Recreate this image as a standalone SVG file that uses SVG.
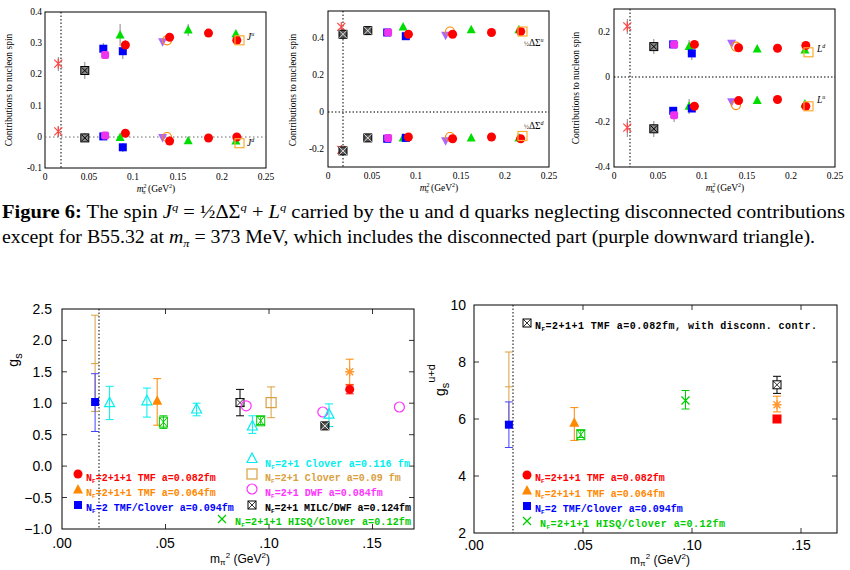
<svg xmlns="http://www.w3.org/2000/svg" xmlns:xlink="http://www.w3.org/1999/xlink" width="850" height="570" viewBox="0 0 850 570">
<style>
.fr{fill:none;stroke:#000;stroke-width:1}
.tk{stroke:#000;stroke-width:0.8}
.sf{font-family:"Liberation Serif",serif;font-size:9.5px;fill:#000}
.ss{font-family:"Liberation Sans",Arial,sans-serif;font-size:14px;fill:#000}
.lg{font-family:"Liberation Mono",monospace;font-size:10px;font-weight:bold;white-space:pre}
.dot{stroke:#666;stroke-width:1;stroke-dasharray:1.5,2.5;fill:none}
.dotk{stroke:#000;stroke-width:1;stroke-dasharray:1.5,2;fill:none}
.eb{stroke-width:1;fill:none}
.cap{font-family:"Liberation Serif",serif;font-size:18px;fill:#000}
</style>
<defs>
<g id="rc"><circle r="4.5" fill="#f00"/></g>
<g id="gt"><path d="M0,-5L4.5,3.5L-4.5,3.5Z" fill="#0d0"/></g>
<g id="bs"><rect x="-4" y="-4" width="8" height="8" fill="#00f"/></g>
<g id="mp"><rect x="-4" y="-4" width="8" height="8" fill="#e3e" rx="2"/></g>
<g id="kb"><rect x="-4" y="-4" width="8" height="8" fill="#888" stroke="#000"/><path d="M-3,-3L3,3M3,-3L-3,3" stroke="#000"/></g>
<g id="rx"><path d="M-4,-4L4,4M4,-4L-4,4M0,-5V5" stroke="#f44" stroke-width="1.2"/></g>
<g id="pd"><path d="M0,5L4.5,-3.5L-4.5,-3.5Z" fill="#a6f"/></g>
<g id="oc"><circle r="4.5" fill="none" stroke="#f80" stroke-width="1.2"/></g>
<g id="os"><rect x="-4.5" y="-4.5" width="9" height="9" fill="none" stroke="#fa3" stroke-width="1.2"/></g>
<g id="ks"><rect x="-4" y="-4" width="8" height="8" fill="#555" stroke="#000"/><path d="M-4,-4L4,4M4,-4L-4,4" stroke="#fff" stroke-width="0.8"/></g>
<g id="kbo"><rect x="-4" y="-4" width="8" height="8" fill="#fff" stroke="#000"/><path d="M-4,-4L4,4M4,-4L-4,4" stroke="#000" stroke-width="0.8"/></g>
<g id="ct"><path d="M0,-6L5,3.5L-5,3.5Z" fill="none" stroke="#0ee" stroke-width="1.2"/></g>
<g id="ot"><path d="M0,-6L5,3.5L-5,3.5Z" fill="#f80"/></g>
<g id="gx"><path d="M-4,-4L4,4M4,-4L-4,4" stroke="#0c0" stroke-width="1.3"/></g>
<g id="gxb"><rect x="-4" y="-5" width="8" height="10" fill="none" stroke="#0c0"/><path d="M-4,-5L4,5M4,-5L-4,5" stroke="#0c0"/></g>
<g id="mc"><circle r="5" fill="none" stroke="#f3f" stroke-width="1.2"/></g>
<g id="osq"><rect x="-5" y="-5" width="10" height="10" fill="none" stroke="#d9a040" stroke-width="1.2"/></g>
<g id="ost"><path d="M-3.5,-3.5L3.5,3.5M3.5,-3.5L-3.5,3.5M0,-4.5V4.5M-4.5,0H4.5" stroke="#f93" stroke-width="1.5"/></g>
<g id="rs"><rect x="-4.5" y="-4.5" width="9" height="9" fill="#f00"/></g>
</defs>

<!-- Top plot 1 -->
<g id="plot-J">
<rect class="fr" x="45" y="12" width="221" height="156"/>
<line class="dotk" x1="61" y1="12" x2="61" y2="168"/>
<line class="dot" x1="45" y1="137" x2="266" y2="137"/>
<g class="sf" text-anchor="end">
<text x="42" y="15">0.4</text><text x="42" y="46">0.3</text><text x="42" y="77">0.2</text><text x="42" y="109">0.1</text><text x="42" y="140">0</text><text x="42" y="171">-0.1</text>
</g>
<g class="sf" text-anchor="middle">
<text x="45" y="180">0</text><text x="89" y="180">0.05</text><text x="133" y="180">0.1</text><text x="178" y="180">0.15</text><text x="222" y="180">0.2</text><text x="266" y="180">0.25</text>
<text x="156" y="192"><tspan font-style="italic">m</tspan><tspan font-size="6" dy="-4">2</tspan><tspan font-size="6" dy="6" dx="-4" font-style="italic">π</tspan><tspan dy="-2"> (GeV</tspan><tspan font-size="6" dy="-4">2</tspan><tspan dy="4">)</tspan></text>
</g>
<text class="sf" transform="translate(12,90) rotate(-90)" text-anchor="middle">Contributions to nucleon spin</text>
<text class="sf" x="247" y="40" font-style="italic">J<tspan font-size="6" dy="-4">u</tspan></text>
<text class="sf" x="247" y="146" font-style="italic">J<tspan font-size="6" dy="-4">d</tspan></text>
<g class="eb">
<path d="M58.3,57V71M84.8,62V79M103.3,43V54M120.1,24V46M122.8,44V59M125.4,40V50M188.2,24V36" stroke="#888"/>
<path d="M58.3,126V137M84.8,133V142M122.8,143V152" stroke="#888"/>
</g>
<use href="#rx" x="58.3" y="63.7"/><use href="#kb" x="84.8" y="70.5"/><use href="#bs" x="103.3" y="48.7"/><use href="#mp" x="105.1" y="55"/><use href="#gt" x="120.1" y="35"/><use href="#bs" x="122.8" y="51.2"/><use href="#rc" x="125.4" y="45"/><use href="#pd" x="162.6" y="41.8"/><use href="#oc" x="167" y="40.3"/><use href="#rc" x="169.6" y="37.2"/><use href="#gt" x="188.2" y="30"/><use href="#rc" x="208.5" y="33.1"/><use href="#gt" x="235.9" y="34"/><use href="#rc" x="236.8" y="40.3"/><use href="#os" x="239.5" y="40.3"/>
<use href="#rx" x="58.3" y="131.4"/><use href="#kb" x="84.8" y="137.9"/><use href="#bs" x="103.3" y="136.4"/><use href="#mp" x="105.1" y="135.4"/><use href="#gt" x="120.1" y="137.6"/><use href="#bs" x="122.8" y="147.3"/><use href="#rc" x="125.4" y="133.3"/><use href="#pd" x="162.6" y="137.6"/><use href="#oc" x="167" y="137"/><use href="#rc" x="169.6" y="141"/><use href="#gt" x="188.2" y="140.7"/><use href="#rc" x="208.5" y="138"/><use href="#gt" x="235.9" y="141"/><use href="#rc" x="236.8" y="137"/><use href="#os" x="239.5" y="143.2"/>
</g>

<!-- Top plot 2 -->
<g id="plot-DS">
<rect class="fr" x="328" y="11" width="221" height="156"/>
<line class="dotk" x1="343" y1="11" x2="343" y2="167"/>
<line class="dotk" x1="328" y1="112" x2="549" y2="112"/>
<g class="sf" text-anchor="end">
<text x="324" y="41">0.4</text><text x="324" y="78">0.2</text><text x="324" y="115">0</text><text x="324" y="152">-0.2</text>
</g>
<g class="sf" text-anchor="middle">
<text x="328" y="179">0</text><text x="372" y="179">0.05</text><text x="416" y="179">0.1</text><text x="461" y="179">0.15</text><text x="505" y="179">0.2</text><text x="549" y="179">0.25</text>
<text x="439" y="191"><tspan font-style="italic">m</tspan><tspan font-size="6" dy="-4">2</tspan><tspan font-size="6" dy="6" dx="-4" font-style="italic">π</tspan><tspan dy="-2"> (GeV</tspan><tspan font-size="6" dy="-4">2</tspan><tspan dy="4">)</tspan></text>
</g>
<text class="sf" transform="translate(296,90) rotate(-90)" text-anchor="middle">Contributions to nucleon spin</text>
<text class="sf" x="524" y="46"><tspan font-size="6.5">½</tspan>ΔΣ<tspan font-size="6" dy="-4" font-style="italic">u</tspan></text>
<text class="sf" x="524" y="129"><tspan font-size="6.5">½</tspan>ΔΣ<tspan font-size="6" dy="-4" font-style="italic">d</tspan></text>
<use href="#rx" x="341.3" y="26.9"/><use href="#ks" x="343" y="34.3"/><use href="#ks" x="367.8" y="30.6"/><use href="#bs" x="387.2" y="32.5"/><use href="#mp" x="388.1" y="32.5"/><use href="#gt" x="403.1" y="26.9"/><use href="#bs" x="405.8" y="36.2"/><use href="#rc" x="408.4" y="34.3"/><use href="#pd" x="445.6" y="35.2"/><use href="#oc" x="450" y="31.5"/><use href="#rc" x="452.6" y="34.3"/><use href="#gt" x="471.2" y="29.7"/><use href="#rc" x="491.5" y="32.5"/><use href="#gt" x="518.9" y="29.7"/><use href="#rc" x="520.7" y="31.5"/><use href="#os" x="522.5" y="31.5"/>
<use href="#rx" x="341.3" y="149.9"/><use href="#ks" x="343" y="150.9"/><use href="#ks" x="367.8" y="137.9"/><use href="#bs" x="387.2" y="138.8"/><use href="#mp" x="388.1" y="137.9"/><use href="#gt" x="403.1" y="137.9"/><use href="#bs" x="405.8" y="137.9"/><use href="#rc" x="408.4" y="137"/><use href="#pd" x="445.6" y="140.7"/><use href="#oc" x="450" y="137"/><use href="#rc" x="452.6" y="138.8"/><use href="#gt" x="471.2" y="137.9"/><use href="#rc" x="491.5" y="137"/><use href="#gt" x="518.9" y="137.9"/><use href="#rc" x="520.7" y="138.8"/><use href="#os" x="522.5" y="136"/>
</g>

<!-- Top plot 3 -->
<g id="plot-L">
<rect class="fr" x="614" y="9" width="221" height="158"/>
<line class="dotk" x1="630" y1="9" x2="630" y2="167"/>
<line class="dotk" x1="614" y1="77" x2="835" y2="77"/>
<g class="sf" text-anchor="end">
<text x="610" y="35">0.2</text><text x="610" y="80">0</text><text x="610" y="125">-0.2</text><text x="610" y="170">-0.4</text>
</g>
<g class="sf" text-anchor="middle">
<text x="614" y="179">0</text><text x="658" y="179">0.05</text><text x="702" y="179">0.1</text><text x="747" y="179">0.15</text><text x="791" y="179">0.2</text><text x="835" y="179">0.25</text>
<text x="725" y="191"><tspan font-style="italic">m</tspan><tspan font-size="6" dy="-4">2</tspan><tspan font-size="6" dy="6" dx="-4" font-style="italic">π</tspan><tspan dy="-2"> (GeV</tspan><tspan font-size="6" dy="-4">2</tspan><tspan dy="4">)</tspan></text>
</g>
<text class="sf" transform="translate(579,88) rotate(-90)" text-anchor="middle">Contributions to nucleon spin</text>
<text class="sf" x="817" y="52" font-style="italic">L<tspan font-size="6" dy="-4">d</tspan></text>
<text class="sf" x="817" y="103" font-style="italic">L<tspan font-size="6" dy="-4">u</tspan></text>
<g class="eb" stroke="#888"><path d="M627.3,19V34M653.8,39V54M689.1,40V55M691.8,47V60M627.3,119V137M653.8,121V137M689.1,99V114M674.1,109V122"/></g>
<use href="#rx" x="627.3" y="26.4"/><use href="#kb" x="653.8" y="46.6"/><use href="#bs" x="673.2" y="44.4"/><use href="#mp" x="674.1" y="44.4"/><use href="#gt" x="689.1" y="46.6"/><use href="#bs" x="691.8" y="53.4"/><use href="#rc" x="694.4" y="44.4"/><use href="#pd" x="731.6" y="43.3"/><use href="#oc" x="736" y="46.6"/><use href="#rc" x="738.6" y="47.8"/><use href="#gt" x="757.2" y="48.9"/><use href="#rc" x="777.5" y="48.2"/><use href="#gt" x="804.9" y="50"/><use href="#rc" x="805.8" y="45.5"/><use href="#os" x="808.5" y="52.3"/>
<use href="#rx" x="627.3" y="127.6"/><use href="#kb" x="653.8" y="128.8"/><use href="#bs" x="673.2" y="110.8"/><use href="#mp" x="674.1" y="115.3"/><use href="#gt" x="689.1" y="106.3"/><use href="#bs" x="691.8" y="108.5"/><use href="#rc" x="694.4" y="106.3"/><use href="#pd" x="731.6" y="101.8"/><use href="#oc" x="736" y="105.1"/><use href="#rc" x="738.6" y="100.6"/><use href="#gt" x="757.2" y="100.6"/><use href="#rc" x="777.5" y="99.5"/><use href="#gt" x="804.9" y="104"/><use href="#rc" x="805.8" y="106.3"/><use href="#os" x="808.5" y="106.3"/>
</g>

<!-- Caption -->
<g id="caption">
<text class="cap" x="2" y="218" textLength="843" lengthAdjust="spacingAndGlyphs"><tspan font-weight="bold">Figure 6:</tspan> The spin <tspan font-style="italic">J</tspan><tspan font-size="11" dy="-7" font-style="italic">q</tspan><tspan dy="7"> = ½ΔΣ</tspan><tspan font-size="11" dy="-7" font-style="italic">q</tspan><tspan dy="7"> + </tspan><tspan font-style="italic">L</tspan><tspan font-size="11" dy="-7" font-style="italic">q</tspan><tspan dy="7"> carried by the u and d quarks neglecting disconnected contributions</tspan></text>
<text class="cap" x="2" y="243" textLength="813" lengthAdjust="spacingAndGlyphs">except for B55.32 at <tspan font-style="italic">m</tspan><tspan font-size="11" dy="4" font-style="italic">π</tspan><tspan dy="-4"> = 373 MeV, which includes the disconnected part (purple downward triangle).</tspan></text>
</g>

<!-- Bottom plot 1 -->
<g id="plot-gs">
<rect class="fr" x="62" y="309" width="352" height="220"/>
<line class="dotk" x1="99" y1="309" x2="99" y2="529"/>
<g class="tk"><path d="M62,340.4h5M62,371.8h5M62,403.2h5M62,434.7h5M62,466.1h5M62,497.5h5M414,340.4h-5M414,371.8h-5M414,403.2h-5M414,434.7h-5M414,466.1h-5M414,497.5h-5M165.5,529v-5M269,529v-5M372.5,529v-5M165.5,309v5M269,309v5M372.5,309v5"/></g>
<g class="ss" text-anchor="end">
<text x="52" y="314">2.5</text><text x="52" y="345">2.0</text><text x="52" y="377">1.5</text><text x="52" y="408">1.0</text><text x="52" y="440">0.5</text><text x="52" y="471">0.0</text><text x="52" y="503">−0.5</text><text x="52" y="534">−1.0</text>
</g>
<g class="ss" text-anchor="middle">
<text x="62" y="548">.00</text><text x="165" y="548">.05</text><text x="269" y="548">.10</text><text x="372" y="548">.15</text>
<text x="240" y="563" font-size="12">m<tspan font-size="8" dy="2">π</tspan><tspan font-size="8" dy="-7">2</tspan><tspan dy="5">  (GeV</tspan><tspan font-size="8" dy="-5">2</tspan><tspan dy="5">)</tspan></text>
</g>
<text class="ss" transform="translate(18,360) rotate(-90)" text-anchor="middle" font-size="17">g<tspan font-size="11" dy="4">s</tspan></text>
<g class="eb">
<path d="M95.1,315.2V411.4M91,315.2h8M91,363.6h8M91,411.4h8" stroke="#d9a040"/>
<path d="M95.1,373.7V431.5M91,373.7h8M91,431.5h8" stroke="#44f"/>
<path d="M109.6,386.3V419.6M105.6,386.3h8M105.6,419.6h8M146.9,388.1V417.1M142.9,388.1h8M142.9,417.1h8M196.6,403.2V415.8M192.6,403.2h8M192.6,415.8h8M252.4,415.8V433.4M248.4,415.8h8M248.4,433.4h8M329,403.9V426.5M325,403.9h8M325,426.5h8" stroke="#0ee"/>
<path d="M157.2,378.7V425.2M153.2,378.7h8M153.2,425.2h8M349.7,359.2V384.4M345.7,359.2h8M345.7,384.4h8" stroke="#f80"/>
<path d="M163.4,415.8V428.4M159.4,415.8h8M159.4,428.4h8M260.7,416.4V424.6M256.7,416.4h8M256.7,424.6h8" stroke="#0c0"/>
<path d="M240,389.4V415.8M236,389.4h8M236,415.8h8" stroke="#000"/>
<path d="M271.1,386.9V417.7M267.1,386.9h8M267.1,417.7h8" stroke="#d9a040"/>
<path d="M349.7,385V393.8M345.7,385h8M345.7,393.8h8" stroke="#f00"/>
</g>
<use href="#bs" x="95.1" y="402"/><use href="#ct" x="109.6" y="403.2"/><use href="#ct" x="146.9" y="401.3"/><use href="#ot" x="157.2" y="401.3"/><use href="#gxb" x="163.4" y="422.1"/><use href="#ct" x="196.6" y="409.5"/><use href="#kbo" x="240" y="402.6"/><use href="#mc" x="246.2" y="405.8"/><use href="#ct" x="252.4" y="426.5"/><use href="#gxb" x="260.7" y="420.8"/><use href="#osq" x="271.1" y="402.6"/><use href="#mc" x="322.8" y="412"/><use href="#ks" x="324.9" y="425.9"/><use href="#ct" x="329" y="414.6"/><use href="#ost" x="349.7" y="371.8"/><use href="#rc" x="349.7" y="389.4"/><use href="#mc" x="399.4" y="407"/>
<g id="legend-gs" class="lg">
<use href="#rc" x="78" y="474"/><text x="86" y="481" fill="#f00">N<tspan font-size="6" dy="2">F</tspan><tspan dy="-2">=2+1+1 TMF  a=0.082fm</tspan></text>
<use href="#ot" x="78" y="490"/><text x="86" y="496" fill="#f80">N<tspan font-size="6" dy="2">F</tspan><tspan dy="-2">=2+1+1 TMF a=0.064fm</tspan></text>
<use href="#bs" x="78" y="505"/><text x="86" y="511" fill="#00f">N<tspan font-size="6" dy="2">F</tspan><tspan dy="-2">=2 TMF/Clover a=0.094fm</tspan></text>
<use href="#ct" x="252" y="459"/><text x="265" y="467" fill="#0ee" textLength="145">N<tspan font-size="6" dy="2">F</tspan><tspan dy="-2">=2+1 Clover a=0.116 fm</tspan></text>
<use href="#osq" x="252" y="474"/><text x="265" y="481" fill="#d9a040">N<tspan font-size="6" dy="2">F</tspan><tspan dy="-2">=2+1 Clover a=0.09 fm</tspan></text>
<use href="#mc" x="252" y="489"/><text x="265" y="496" fill="#f3f">N<tspan font-size="6" dy="2">F</tspan><tspan dy="-2">=2+1 DWF a=0.084fm</tspan></text>
<use href="#kbo" x="252" y="505"/><text x="265" y="511" fill="#000" textLength="146">N<tspan font-size="6" dy="2">F</tspan><tspan dy="-2">=2+1 MILC/DWF a=0.124fm</tspan></text>
<use href="#gx" x="222" y="519"/><text x="235" y="525" fill="#0c0" textLength="176">N<tspan font-size="6" dy="2">F</tspan><tspan dy="-2">=2+1+1 HISQ/Clover  a=0.12fm</tspan></text>
</g>
</g>

<!-- Bottom plot 2 -->
<g id="plot-gsud">
<rect class="fr" x="474" y="305" width="363" height="228"/>
<line class="dotk" x1="513" y1="305" x2="513" y2="533"/>
<g class="tk"><path d="M474,362h5M474,419h5M474,476h5M837,362h-5M837,419h-5M837,476h-5M583,533v-5M692,533v-5M801,533v-5M583,305v5M692,305v5M801,305v5"/></g>
<g class="ss" text-anchor="end">
<text x="466" y="310">10</text><text x="466" y="367">8</text><text x="466" y="424">6</text><text x="466" y="481">4</text><text x="466" y="538">2</text>
</g>
<g class="ss" text-anchor="middle">
<text x="474" y="550">.00</text><text x="583" y="550">.05</text><text x="692" y="550">.10</text><text x="801" y="550">.15</text>
<text x="660" y="564" font-size="12">m<tspan font-size="8" dy="2">π</tspan><tspan font-size="8" dy="-7">2</tspan><tspan dy="5">  (GeV</tspan><tspan font-size="8" dy="-5">2</tspan><tspan dy="5">)</tspan></text>
</g>
<text class="ss" transform="translate(445,380) rotate(-90)" text-anchor="middle" font-size="17">g<tspan font-size="11" dy="4">s</tspan><tspan font-size="11" dy="-14">u+d</tspan></text>
<g class="eb">
<path d="M508.9,352V421.9M504.9,352h8M504.9,386.8h8" stroke="#d9a040"/>
<path d="M508.9,401.9V447.5M504.9,401.9h8M504.9,447.5h8M504.9,421.9h8" stroke="#44f"/>
<path d="M574.3,407.6V440.4M570.3,407.6h8M570.3,440.4h8M777,396.2V411.9M773,396.2h8M773,411.9h8" stroke="#f80"/>
<path d="M580.8,430.4V437.5M576.8,430.4h8M576.8,437.5h8M685.5,390.5V409M681.5,390.5h8M681.5,409h8" stroke="#0c0"/>
<path d="M777,376.3V393.4M773,376.3h8M773,393.4h8" stroke="#000"/>
</g>
<use href="#bs" x="508.9" y="424.7"/><use href="#ot" x="574.3" y="423.3"/><use href="#gxb" x="580.8" y="434.7"/><use href="#gx" x="685.5" y="400.5"/><use href="#kbo" x="777" y="384.8"/><use href="#ost" x="777" y="404.8"/><use href="#rs" x="777" y="419"/>
<g id="legend-gsud" class="lg">
<use href="#kbo" x="527" y="323"/><text x="535" y="329" fill="#000" textLength="282">N<tspan font-size="6" dy="2">F</tspan><tspan dy="-2">=2+1+1 TMF   a=0.082fm, with disconn. contr.</tspan></text>
<use href="#rc" x="527" y="475"/><text x="535" y="481" fill="#f00">N<tspan font-size="6" dy="2">F</tspan><tspan dy="-2">=2+1+1 TMF   a=0.082fm</tspan></text>
<use href="#ot" x="527" y="491"/><text x="535" y="497" fill="#f80">N<tspan font-size="6" dy="2">F</tspan><tspan dy="-2">=2+1+1 TMF a=0.064fm</tspan></text>
<use href="#bs" x="527" y="506"/><text x="535" y="512" fill="#00f">N<tspan font-size="6" dy="2">F</tspan><tspan dy="-2">=2 TMF/Clover a=0.094fm</tspan></text>
<use href="#gx" x="527" y="521"/><text x="540" y="527" fill="#0c0" textLength="185">N<tspan font-size="6" dy="2">F</tspan><tspan dy="-2">=2+1+1 HISQ/Clover  a=0.12fm</tspan></text>
</g>
</g>
</svg>
